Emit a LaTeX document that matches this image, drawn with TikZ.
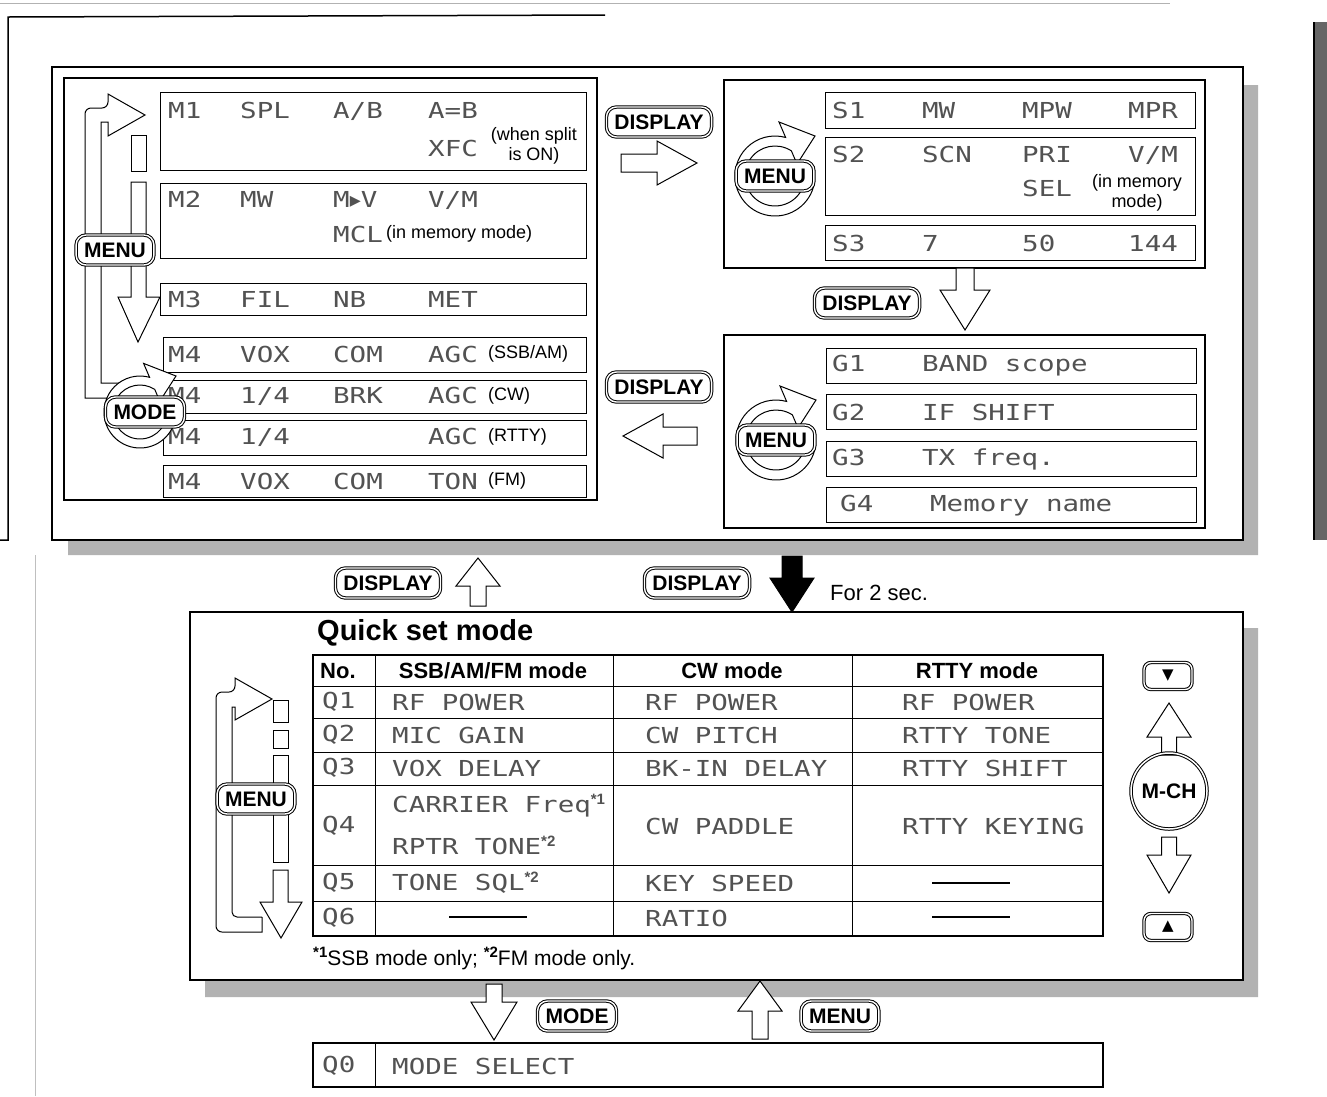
\documentclass[tikz,border=0pt]{standalone}
\usepackage{fontspec}
\setmainfont{Liberation Sans}
\setsansfont{Liberation Sans}
\newfontfamily\lcdfont[FakeStretch=1.25]{DejaVu Sans Mono}
\newfontfamily\symfont{DejaVu Sans}
\usetikzlibrary{positioning}

\tikzstyle{frame} = [draw, line width=1.6pt]
\tikzstyle{panel} = [draw, line width=1.3pt]
\tikzstyle{row} = [draw, line width=1pt, anchor=north west, inner sep=0pt]
\tikzstyle{shade} = [fill=black!30]
\tikzstyle{lcd} = [anchor=west, inner sep=0pt, text=black!68, font=\lcdfont\fontsize{22}{24}\selectfont]
\tikzstyle{note} = [inner sep=0pt, align=center, font=\sffamily\fontsize{18}{20}\selectfont]
\tikzstyle{btn} = [draw, double, double distance=1.4pt, line width=1pt, rounded corners=10pt, fill=white, minimum height=30pt, inner xsep=8pt, font=\sffamily\bfseries\fontsize{21}{21}\selectfont]
\tikzstyle{hollow} = [draw, line width=1pt, fill=white, line join=miter]
\tikzstyle{head} = [inner sep=0pt, font=\sffamily\bfseries\fontsize{22}{23}\selectfont]

\newcommand{\cell}[2]{\makebox[#1pt][l]{#2}}
\newcommand{\fnmark}[1]{\raisebox{8pt}{\sffamily\bfseries\fontsize{15}{15}\selectfont *#1}}
% optional style, centre, angle, length, head length, head width, shaft width
\newcommand{\hollowarrow}[7][]{%
  \draw[hollow, #1, shift={(#2)}, rotate=#3, x=1pt, y=1pt]
    ({-#4/2},{-#7/2}) -- ({#4/2-#5},{-#7/2}) -- ({#4/2-#5},{-#6/2}) -- ({#4/2},0)
    -- ({#4/2-#5},{#6/2}) -- ({#4/2-#5},{#7/2}) -- ({-#4/2},{#7/2}) -- cycle;}
\tikzset{ring/.pic={
  \draw[hollow, x=1pt, y=1pt] (-15:40) arc[start angle=-15, end angle=-285.4, radius=40]
    -- (4,54) -- (40,40) -- (22,12) -- (56.9:30) arc[start angle=-303.1, end angle=-15, radius=30] -- cycle;}}

\begin{document}
\begin{tikzpicture}[x=1pt, y=-1pt]
    \useasboundingbox (0,0) rectangle (1327,1096);
    % page edges of the scan
    \draw[gray!60, line width=0.6pt] (0,3) -- (1170,3);
    \draw[line width=1.5pt] (0,540) -- (8,540) -- (8,17) -- (605,15);
    \draw[gray!50, line width=0.6pt] (35,555) -- (35,1096);
    \fill[black!60] (1315,22) rectangle (1327,540);
    \draw[line width=1.2pt] (1314,22) -- (1314,540);

    % upper frame
    \fill[shade] (1243,85) -- (1258,85) -- (1258,555) -- (68,555) -- (68,540) -- (1243,540) -- cycle;
    \draw[frame, fill=white] (52,67) rectangle (1243,540);

    % menu panel M1-M4
    \draw[panel] (64,78) rectangle (597,500);
    \node[row, minimum width=426pt, minimum height=78pt] (m1) at (160,92) {};
    \node[row, minimum width=426pt, minimum height=75pt] (m2) at (160,183) {};
    \node[row, minimum width=426pt, minimum height=32pt] (m3) at (160,283) {};
    \node[row, minimum width=423pt, minimum height=35pt] (m4ssb) at (163,337) {};
    \node[row, minimum width=423pt, minimum height=33pt] (m4cw) at (163,380) {};
    \node[row, minimum width=423pt, minimum height=35pt] (m4rtty) at (163,420) {};
    \node[row, minimum width=423pt, minimum height=32pt] (m4fm) at (163,465) {};

    \node[lcd] (m1a) at (168,111) {\cell{72}{M1}\cell{93}{SPL}\cell{95}{A/B}A=B};
    \node[lcd] (m1b) at (428,148) {XFC};
    \node[note] (m1n) at (534,146) {(when split\\is ON)};
    \node[lcd] (m2a) at (168,200) {\cell{72}{M2}\cell{93}{MW}\cell{95}{M{\symfont▸}V}V/M};
    \node[lcd] (m2b) at (333,234) {MCL};
    \node[note, anchor=west] (m2n) at (386,234) {(in memory mode)};
    \node[lcd] (m3a) at (168,299) {\cell{72}{M3}\cell{93}{FIL}\cell{95}{NB}MET};
    \node[lcd] (m4a) at (168,354) {\cell{72}{M4}\cell{93}{VOX}\cell{95}{COM}AGC};
    \node[note, anchor=west] (m4an) at (488,354) {(SSB/AM)};
    \node[lcd] (m4b) at (168,396) {\cell{72}{M4}\cell{93}{1/4}\cell{95}{BRK}AGC};
    \node[note, anchor=west] (m4bn) at (488,396) {(CW)};
    \node[lcd] (m4c) at (168,437) {\cell{72}{M4}\cell{93}{1/4}\cell{95}{}AGC};
    \node[note, anchor=west] (m4cn) at (488,437) {(RTTY)};
    \node[lcd] (m4d) at (168,481) {\cell{72}{M4}\cell{93}{VOX}\cell{95}{COM}TON};
    \node[note, anchor=west] (m4dn) at (488,481) {(FM)};

    % menu loop of the M panel
    \draw[hollow, fill=none] (122,398) -- (85,398) [rounded corners=6pt] -- (85,108) -- (108,108) [sharp corners] -- (108,94) -- (145,115) -- (108,136) -- (108,122) -- (101,122) -- (101,383) -- (122,383);
    \draw[hollow] (131,135) rectangle (146,171);
    \draw[hollow] (131,182) -- (146,182) -- (146,297) -- (160,297) -- (138,342) -- (118,297) -- (131,297) -- cycle;
    \node[btn] (menuM) at (115,250) {MENU};
    \pic[scale=0.9] at (140,412) {ring};
    \node[btn] (modeM) at (145,412) {MODE};

    % set panel S1-S3
    \draw[panel] (724,80) rectangle (1205,268);
    \node[row, minimum width=370pt, minimum height=36pt] (s1) at (825,92) {};
    \node[row, minimum width=370pt, minimum height=78pt] (s2) at (825,137) {};
    \node[row, minimum width=370pt, minimum height=35pt] (s3) at (825,225) {};
    \node[lcd] (s1a) at (832,110) {\cell{90}{S1}\cell{100}{MW}\cell{106}{MPW}MPR};
    \node[lcd] (s2a) at (832,155) {\cell{90}{S2}\cell{100}{SCN}\cell{106}{PRI}V/M};
    \node[lcd] (s2b) at (1022,188) {SEL};
    \node[note] (s2n) at (1137,193) {(in memory\\mode)};
    \node[lcd] (s3a) at (832,243) {\cell{90}{S3}\cell{100}{7}\cell{106}{50}144};
    \pic at (775,176) {ring};
    \node[btn] (menuS) at (775,176) {MENU};

    % panel G1-G4
    \draw[panel] (724,335) rectangle (1205,528);
    \node[row, minimum width=370pt, minimum height=35pt] (g1) at (826,348) {};
    \node[row, minimum width=370pt, minimum height=35pt] (g2) at (826,394) {};
    \node[row, minimum width=370pt, minimum height=35pt] (g3) at (826,441) {};
    \node[row, minimum width=370pt, minimum height=35pt] (g4) at (826,487) {};
    \node[lcd] (g1a) at (832,366) {\cell{90}{G1}BAND scope};
    \node[lcd] (g2a) at (832,412) {\cell{90}{G2}IF SHIFT};
    \node[lcd] (g3a) at (832,459) {\cell{90}{G3}TX freq.};
    \node[lcd] (g4a) at (840,506) {\cell{90}{G4}Memory name};
    \pic at (776,440) {ring};
    \node[btn] (menuG) at (776,440) {MENU};

    % display keys between the panels
    \node[btn] (disp1) at (659,122) {DISPLAY};
    \hollowarrow{659,163}{0}{76}{40}{44}{18}
    \node[btn] (disp2) at (867,303) {DISPLAY};
    \hollowarrow{965,299}{-90}{62}{40}{50}{18}
    \node[btn] (disp3) at (659,387) {DISPLAY};
    \hollowarrow{660,436}{180}{74}{40}{44}{18}

    % between the frames
    \node[btn] (disp4) at (388,583) {DISPLAY};
    \hollowarrow{478,582}{90}{48}{28}{44}{16}
    \node[btn] (disp5) at (697,583) {DISPLAY};
    \hollowarrow[fill=black]{792,584}{-90}{56}{34}{44}{20}
    \node[anchor=west, inner sep=0pt, font=\sffamily\fontsize{22}{24}\selectfont] (hold) at (830,593) {For 2 sec.};

    % quick set frame
    \fill[shade] (1243,628) -- (1258,628) -- (1258,997) -- (205,997) -- (205,980) -- (1243,980) -- cycle;
    \draw[frame, fill=white] (190,612) rectangle (1243,980);
    \node[anchor=west, inner sep=0pt, font=\sffamily\bfseries\fontsize{29}{30}\selectfont] (qtitle) at (317,633) {Quick set mode};

    % table
    \draw[line width=1.4pt] (313,655) rectangle (1103,936);
    \foreach \y in {686,718,752,785,865,901} \draw[line width=1pt] (313,\y) -- (1103,\y);
    \foreach \x in {375,613,852} \draw[line width=1pt] (\x,655) -- (\x,936);
    \node[head, anchor=west] (hno) at (320,671) {No.};
    \node[head] (hssb) at (493,671) {SSB/AM/FM mode};
    \node[head] (hcw) at (732,671) {CW mode};
    \node[head] (hrtty) at (977,671) {RTTY mode};

    \node[lcd] (q1) at (322,702) {Q1};
    \node[lcd] (qa1) at (392,702) {RF POWER};
    \node[lcd] (qb1) at (645,702) {RF POWER};
    \node[lcd] (qc1) at (902,702) {RF POWER};
    \node[lcd] (q2) at (322,735) {Q2};
    \node[lcd] (qa2) at (392,735) {MIC GAIN};
    \node[lcd] (qb2) at (645,735) {CW PITCH};
    \node[lcd] (qc2) at (902,735) {RTTY TONE};
    \node[lcd] (q3) at (322,768) {Q3};
    \node[lcd] (qa3) at (392,768) {VOX DELAY};
    \node[lcd] (qb3) at (645,768) {BK-IN DELAY};
    \node[lcd] (qc3) at (902,768) {RTTY SHIFT};
    \node[lcd] (q4) at (322,826) {Q4};
    \node[lcd] (qa4) at (392,806) {CARRIER Freq\fnmark{1}};
    \node[lcd] (qa4b) at (392,845) {RPTR TONE\fnmark{2}};
    \node[lcd] (qb4) at (645,826) {CW PADDLE};
    \node[lcd] (qc4) at (902,826) {RTTY KEYING};
    \node[lcd] (q5) at (322,883) {Q5};
    \node[lcd] (qa5) at (392,883) {TONE SQL\fnmark{2}};
    \node[lcd] (qb5) at (645,883) {KEY SPEED};
    \node[inner sep=0pt] (qc5) at (971,883) {\rule{78pt}{1.2pt}};
    \node[lcd] (q6) at (322,918) {Q6};
    \node[inner sep=0pt] (qa6) at (488,917) {\rule{78pt}{1.2pt}};
    \node[lcd] (qb6) at (645,918) {RATIO};
    \node[inner sep=0pt] (qc6) at (971,917) {\rule{78pt}{1.2pt}};
    \node[anchor=west, inner sep=0pt, font=\sffamily\fontsize{21}{22}\selectfont] (foot) at (313,958) {\fnmark{1}SSB mode only; \fnmark{2}FM mode only.};

    % menu loop of the quick set table
    \draw[hollow, fill=none] (262,917) -- (262,932) [rounded corners=6pt] -- (216,932) -- (216,692) -- (235,692) [sharp corners] -- (235,678) -- (272,699) -- (235,720) -- (235,707) -- (232,707) [rounded corners=5pt] -- (232,917) [sharp corners] -- (262,917);
    \draw[hollow] (273,700) rectangle (288,722);
    \draw[hollow] (273,730) rectangle (288,748);
    \draw[hollow] (273,755) rectangle (288,862);
    \draw[hollow] (273,870) -- (288,870) -- (288,902) -- (302,902) -- (281,938) -- (260,902) -- (273,902) -- cycle;
    \node[btn] (menuQ) at (256,799) {MENU};

    % M-CH keys
    \node[btn, minimum width=48pt, minimum height=27pt, rounded corners=7pt, font=\symfont\fontsize{15}{15}\selectfont] (keydn) at (1168,676) {▼};
    \hollowarrow{1169,729}{90}{52}{34}{44}{15}
    \node[circle, draw, double, double distance=1.5pt, line width=1pt, minimum size=76pt, inner sep=0pt, font=\sffamily\bfseries\fontsize{21}{21}\selectfont] (mch) at (1169,791) {M-CH};
    \hollowarrow{1169,865}{-90}{56}{38}{44}{15}
    \node[btn, minimum width=48pt, minimum height=27pt, rounded corners=7pt, font=\symfont\fontsize{15}{15}\selectfont] (keyup) at (1168,927) {▲};

    % mode select
    \hollowarrow{494,1012}{-90}{56}{38}{46}{16}
    \node[btn] (modeQ) at (577,1016) {MODE};
    \hollowarrow{760,1010}{90}{58}{30}{44}{16}
    \node[btn] (menuQ0) at (840,1016) {MENU};
    \draw[line width=1.3pt] (313,1043) rectangle (1103,1087);
    \draw[line width=1pt] (375,1043) -- (375,1087);
    \node[lcd] (q0) at (322,1066) {Q0};
    \node[lcd] (q0a) at (392,1066) {MODE SELECT};
\end{tikzpicture}
\end{document}
